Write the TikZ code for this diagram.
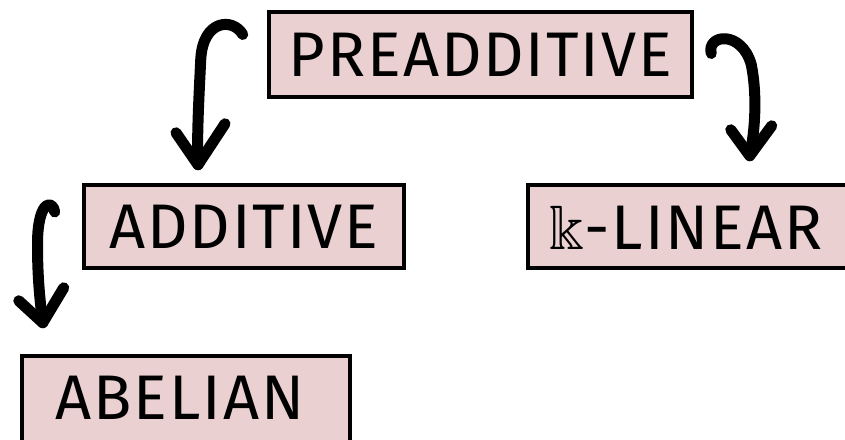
\documentclass[tikz,border=0pt]{standalone}
\usepackage{amssymb}
\usepackage{fontspec}
\setmainfont{Fira Sans}[LetterSpace=3]
\definecolor{boxpink}{HTML}{EAD0D1}
\tikzset{
  catbox/.style={draw=black, fill=boxpink, line width=4.5pt, inner sep=0pt,
    font=\fontsize{63}{63}\selectfont},
  cattext/.style={inner sep=0pt, font=\fontsize{63}{63}\selectfont},
  hook/.style={draw=black, line width=11pt, line cap=round, line join=round}
}
\begin{document}
\begin{tikzpicture}[x=1pt,y=-1pt]
  \useasboundingbox (0,0) rectangle (845,439);
  \begin{scope}
  \clip (0,0) rectangle (845,439);
  % category boxes
  \node[catbox, minimum width=423pt, minimum height=85pt] (pre) at (480.5,54.5) {PREADDITIVE};
  \node[catbox, minimum width=320pt, minimum height=83pt] (add) at (244,226.5) {ADDITIVE};
  \node[catbox, minimum width=352pt, minimum height=83pt] (lin) at (704,226.5) {};
  \node[cattext] (lintext) at (686,228) {$\Bbbk$-LINEAR};
  \node[catbox, minimum width=328pt, minimum height=104pt] (abe) at (186,408) {};
  \node[cattext] (abetext) at (180,398) {ABELIAN};
  \end{scope}

  % hooked arrows
  \coordinate (a1s) at ([shift={(-24,-20)}]pre.west);
  \coordinate (a1t) at ([shift={(-46,-18)}]add.north);
  \draw[hook] (a1s) .. controls ([shift={(-10,-17)}]a1s) and ([shift={(-40,-15)}]a1s) .. ([shift={(-42,25)}]a1s)
    .. controls ([shift={(-44,65)}]a1s) and ([shift={(-46,105)}]a1s) .. (a1t);
  \draw[hook] ([shift={(-22,-32)}]a1t) -- (a1t) -- ([shift={(27,-41)}]a1t);

  \coordinate (a2s) at ([shift={(17,-1)}]pre.east);
  \coordinate (a2t) at ([shift={(224,-27)}]lin.north west);
  \draw[hook] (a2s) .. controls ([shift={(-5,-19)}]a2s) and ([shift={(30,-24)}]a2s) .. ([shift={(40,11)}]a2s)
    .. controls ([shift={(46,41)}]a2s) and ([shift={(44,76)}]a2s) .. (a2t);
  \draw[hook] ([shift={(-19,-26)}]a2t) -- (a2t) -- ([shift={(22,-30)}]a2t);

  \coordinate (a3s) at ([shift={(-27,-14.5)}]add.west);
  \coordinate (a3t) at ([shift={(23,-31)}]abe.north west);
  \draw[hook] (a3s) .. controls ([shift={(-2,-12)}]a3s) and ([shift={(-15,-12)}]a3s) .. ([shift={(-17,23)}]a3s)
    .. controls ([shift={(-18,58)}]a3s) and ([shift={(-15,88)}]a3s) .. (a3t);
  \draw[hook] ([shift={(-24,-22)}]a3t) -- (a3t) -- ([shift={(21,-35)}]a3t);
\end{tikzpicture}
\end{document}
